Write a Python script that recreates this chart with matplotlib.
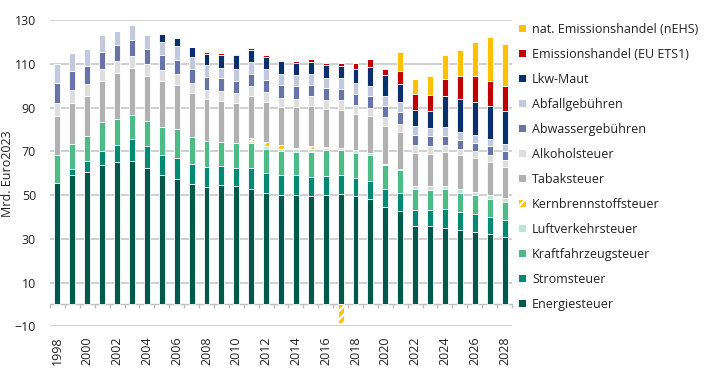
import numpy as np
import matplotlib
matplotlib.use("Agg")
import matplotlib.pyplot as plt
from matplotlib.patches import Patch

plt.rcParams['font.family'] = ['Open Sans', 'DejaVu Sans']
plt.rcParams['hatch.linewidth'] = 1.6

years = list(range(1998, 2029))

energie = [55.6, 59.0, 60.5, 63.6, 65.1, 65.8, 62.6, 59.2, 57.5, 54.9, 53.8, 54.6, 54.0, 52.9, 51.0, 50.3,
           50.1, 49.7, 50.3, 50.6, 49.5, 48.4, 44.7, 42.7, 35.8, 36.1, 35.0, 34.2, 33.2, 32.3, 30.9]
strom = [0, 3.1, 5.0, 6.8, 8.0, 10.0, 9.9, 9.1, 9.5, 9.5, 9.0, 8.6, 8.6, 9.6, 9.1, 9.1,
         8.9, 8.8, 8.5, 8.4, 8.4, 8.2, 8.0, 8.1, 7.2, 6.9, 8.5, 8.0, 8.0, 7.5, 7.8]
kfz = [12.8, 11.2, 11.6, 13.1, 11.9, 11.0, 11.6, 13.0, 13.1, 12.3, 12.0, 11.3, 11.3, 11.2, 11.1, 10.6,
       10.8, 11.3, 11.7, 11.5, 11.4, 11.6, 11.3, 10.8, 9.7, 9.4, 9.1, 9.0, 8.8, 8.6, 8.3]
luft = [0] * 13 + [1.2, 1.3, 1.3, 1.2, 1.2, 1.2, 1.2, 1.3, 1.2, 0.3, 0.3, 1.5, 1.8, 1.8, 1.7, 1.5, 1.6, 1.5]
kern = [0] * 13 + [1.1, 1.7, 1.5, 0.8, 1.3, 0.4, -8.7] + [0] * 11
tabak = [17.6, 18.7, 18.1, 18.9, 20.9, 21.5, 20.3, 21.1, 20.3, 19.9, 19.0, 18.4, 18.4, 19.2, 18.2, 17.5,
         18.4, 18.6, 17.3, 17.4, 16.7, 16.6, 17.2, 17.1, 15.0, 14.7, 15.3, 15.3, 15.4, 15.1, 14.6]
alkohol = [6.1, 6.0, 5.6, 5.3, 5.3, 5.5, 5.6, 5.0, 5.2, 4.5, 4.5, 4.6, 4.4, 4.6, 4.8, 4.1,
           3.9, 4.3, 4.3, 4.3, 4.1, 3.8, 4.2, 3.7, 3.6, 3.4, 3.1, 3.0, 3.1, 3.2, 3.1]
abwasser = [9.0, 8.6, 8.4, 7.8, 7.3, 7.3, 7.0, 6.6, 6.1, 6.5, 5.7, 5.9, 5.7, 5.7, 5.6, 6.0,
            5.7, 5.3, 5.3, 5.3, 5.0, 5.4, 4.9, 5.2, 4.5, 4.6, 4.4, 4.1, 3.8, 4.0, 3.8]
abfall = [8.9, 8.4, 7.8, 7.6, 6.8, 6.9, 6.4, 6.1, 6.4, 5.6, 5.6, 4.9, 5.4, 5.2, 5.1, 4.9,
          5.2, 5.0, 4.8, 4.8, 5.0, 4.8, 4.6, 4.5, 4.2, 3.8, 3.8, 3.6, 3.8, 3.3, 3.5]
lkw = [0] * 7 + [3.8, 4.0, 4.6, 4.8, 5.8, 6.1, 5.7, 5.3, 5.9, 5.6, 5.4, 5.8, 5.6, 6.1, 8.5, 9.9,
                 8.6, 7.6, 7.9, 14.2, 15.2, 15.2, 15.0, 14.8]
ets = [0] * 10 + [1.0, 0.9, 0.7, 0.9, 0.8, 0.7, 0.7, 1.4, 1.0, 1.2, 3.1, 3.8, 2.8, 6.0, 7.3, 7.0,
                  8.1, 10.3, 11.9, 11.8, 11.5]
nehs = [0] * 23 + [8.3, 6.7, 8.8, 11.0, 12.2, 15.2, 19.8, 19.4]

# stacking order bottom -> top
series = [
    ("Energiesteuer", energie, "#00594a", None),
    ("Stromsteuer", strom, "#008a74", None),
    ("Kraftfahrzeugsteuer", kfz, "#4dbb86", None),
    ("Luftverkehrsteuer", luft, "#bfe6d4", None),
    ("Kernbrennstoffsteuer", kern, "#ffc20e", "////"),
    ("Tabaksteuer", tabak, "#b1b1b1", None),
    ("Alkoholsteuer", alkohol, "#dedede", None),
    ("Abwassergebühren", abwasser, "#6874a8", None),
    ("Abfallgebühren", abfall, "#c2c9de", None),
    ("Lkw-Maut", lkw, "#0b2f6b", None),
    ("Emissionshandel (EU ETS1)", ets, "#c00000", None),
    ("nat. Emissionshandel (nEHS)", nehs, "#ffc000", None),
]

fig = plt.figure(figsize=(7.10, 3.68), dpi=100)
ax = fig.add_axes([50 / 710, 1 - 326.3 / 368, 462 / 710, (326.3 - 20.3) / 368])

x = np.arange(len(years))
pos_b = np.zeros(len(years))
neg_b = np.zeros(len(years))
handles = []
for name, vals, col, hatch in series:
    v = np.array(vals, dtype=float)
    bottom = np.where(v >= 0, pos_b, neg_b)
    ax.bar(x, v, width=0.4, bottom=bottom, color=col, edgecolor="white",
           linewidth=0.6, hatch=hatch, zorder=3)
    pos_b = pos_b + np.where(v > 0, v, 0)
    neg_b = neg_b + np.where(v < 0, v, 0)
    handles.append(Patch(facecolor=col, edgecolor="white" if hatch else col,
                         hatch=hatch, linewidth=0.0, label=name))

ax.set_xlim(-0.5, len(years) - 0.5)
ax.set_ylim(-10, 130)
ax.set_yticks(np.arange(-10, 131, 20))
ax.grid(axis="y", color="#d0d0d0", linewidth=1.4, zorder=0)
ax.tick_params(axis="y", length=0, pad=10, labelsize=9, labelcolor="#222222")
for s in ["left", "right", "top"]:
    ax.spines[s].set_visible(False)
ax.spines["bottom"].set_position(("data", 0))
ax.spines["bottom"].set_color("#c0c0c0")
ax.spines["bottom"].set_linewidth(1.0)
ax.spines["bottom"].set_zorder(2)
ax.set_xticks(x)
ax.set_xticklabels([])
ax.tick_params(axis="x", which="major", length=0)
ax.set_xticks(np.arange(-0.5, len(years), 1), minor=True)
ax.tick_params(axis="x", which="minor", length=3, color="#c0c0c0", width=1.0, direction="out")

sec = ax.secondary_xaxis("bottom")
sec.set_xticks(x[::2])
sec.set_xticklabels([str(y) for y in years[::2]], rotation=90, fontsize=9, color="#222222")
sec.tick_params(length=0, pad=7)
sec.spines["bottom"].set_visible(False)

ax.set_ylabel("Mrd. Euro2023", fontsize=9, color="#222222")
ax.yaxis.set_label_coords(-36 / 462, 0.5)

leg = fig.legend(handles=handles[::-1], loc="upper left", bbox_to_anchor=(519 / 710, 1 - 23 / 368),
                 frameon=False, fontsize=9, handlelength=0.55, handleheight=0.55,
                 handletextpad=0.5, labelspacing=0.96, borderpad=0, borderaxespad=0)
for t in leg.get_texts():
    t.set_color("#222222")

fig.savefig("out.png", dpi=100)
